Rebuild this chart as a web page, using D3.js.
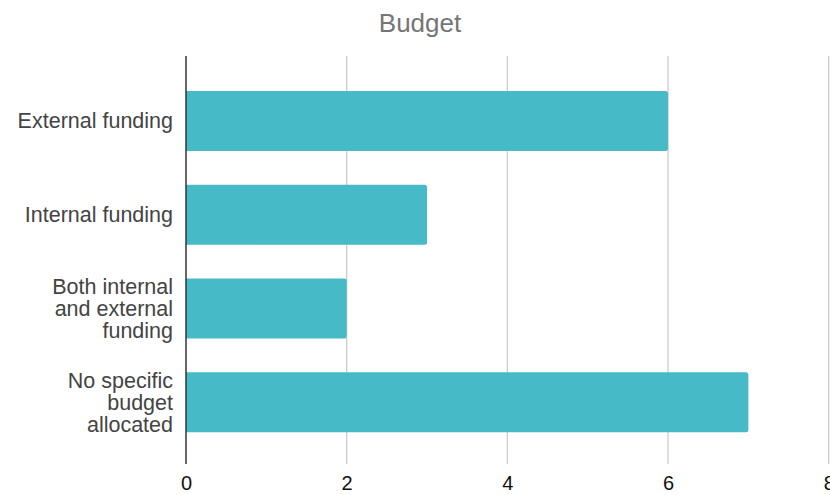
<!DOCTYPE html>
<html>
<head>
<meta charset="utf-8">
<script src="https://cdn.jsdelivr.net/npm/d3@7"></script>
<style>
  html, body { margin: 0; padding: 0; background: #fff; }
  svg { display: block; font-family: Arial, "Liberation Sans", sans-serif; }
</style>
</head>
<body>
<svg id="chart" width="830" height="495"></svg>
<script>
// Budget sources, counted per category
const categories = [
  ["External funding"],
  ["Internal funding"],
  ["Both internal", "and external", "funding"],
  ["No specific", "budget", "allocated"]
];
const values = [6, 3, 2, 7];
const xTicks = [0, 2, 4, 6, 8];
const title = "Budget";

(function draw() {
  const svg = d3.select("#chart");
  const plotLeft = 186, plotRight = 828.7, plotTop = 56, plotBottom = 464;

  const x = d3.scaleLinear().domain([0, 8]).range([plotLeft, plotRight]);
  const y = d3.scaleBand()
    .domain(d3.range(categories.length))
    .range([74, 449])
    .paddingInner(0.36)
    .paddingOuter(0.18);

  // title
  svg.append("text")
    .attr("x", 420).attr("y", 32)
    .attr("text-anchor", "middle")
    .attr("fill", "#757575")
    .attr("font-size", 26)
    .text(title);

  // vertical gridlines
  svg.append("g")
    .selectAll("line")
    .data(xTicks.filter(d => d > 0))
    .join("line")
    .attr("x1", d => x(d)).attr("x2", d => x(d))
    .attr("y1", plotTop).attr("y2", plotBottom)
    .attr("stroke", "#cccccc")
    .attr("stroke-width", 1.3);

  // bars with slightly rounded ends
  const bw = y.bandwidth();
  const r = 2.5;
  svg.append("g")
    .selectAll("path")
    .data(values)
    .join("path")
    .attr("fill", "#46bbc7")
    .attr("d", (d, i) => {
      const x0 = x(0), x1 = x(d), y0 = y(i), y1 = y(i) + bw;
      return `M${x0},${y0}H${x1 - r}Q${x1},${y0} ${x1},${y0 + r}V${y1 - r}Q${x1},${y1} ${x1 - r},${y1}H${x0}Z`;
    });

  // baseline axis
  svg.append("line")
    .attr("x1", x(0)).attr("x2", x(0))
    .attr("y1", plotTop).attr("y2", plotBottom)
    .attr("stroke", "#333333")
    .attr("stroke-width", 1.5);

  // x tick labels
  const xAxis = d3.axisBottom(x).tickValues(xTicks).tickSize(0).tickPadding(0);
  const gx = svg.append("g")
    .attr("transform", `translate(0,${plotBottom + 12})`)
    .call(xAxis);
  gx.select(".domain").remove();
  gx.selectAll("text")
    .attr("font-size", 20)
    .attr("font-family", "Arial, 'Liberation Sans', sans-serif")
    .attr("fill", "#111")
    .attr("dy", "0.71em");

  // category labels
  const lineH = 22;
  const labels = svg.append("g");
  categories.forEach((lines, i) => {
    const cy = y(i) + bw / 2;
    const t = labels.append("text")
      .attr("text-anchor", "end")
      .attr("fill", "#444444")
      .attr("font-size", 21.5);
    lines.forEach((ln, j) => {
      t.append("tspan")
        .attr("x", 173)
        .attr("y", cy + (j - (lines.length - 1) / 2) * lineH)
        .attr("dy", "0.35em")
        .text(ln);
    });
  });
})();
</script>
</body>
</html>
